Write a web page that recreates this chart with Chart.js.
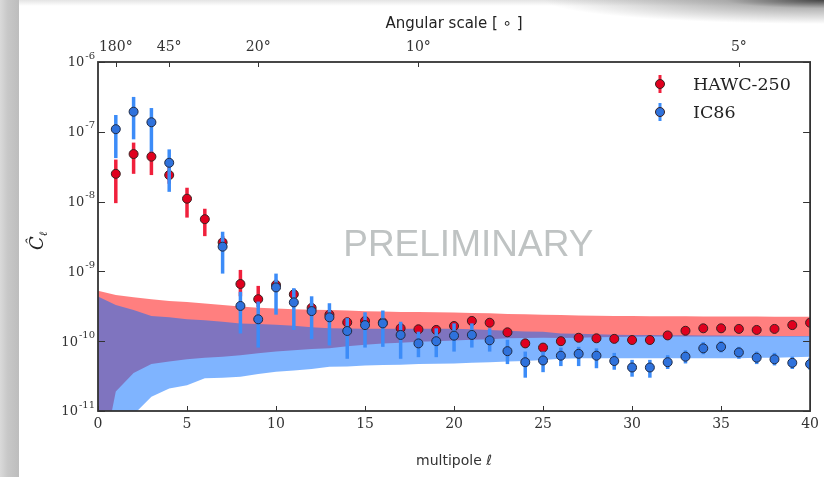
<!DOCTYPE html>
<html>
<head>
<meta charset="utf-8">
<script src="https://cdn.jsdelivr.net/npm/chart.js@4.4.1/dist/chart.umd.min.js"></script>
<style>
  html, body { margin: 0; padding: 0; background: #fff; }
  #wrap { position: relative; width: 824px; height: 477px; overflow: hidden; background: #fff; }
  #edge { position: absolute; left: 0; top: 0; width: 19px; height: 477px;
          background: linear-gradient(to right, #dadada 0%, #c8c8c8 40%, #bdbdbd 100%); }
  #topedge { position: absolute; left: 19px; top: 0; width: 805px; height: 6px;
          background: linear-gradient(to bottom, #e4e4e4, rgba(255,255,255,0)); }
  #shadow { position: absolute; right: 0; top: 0; width: 280px; height: 24px;
          background: radial-gradient(ellipse 100% 100% at 100% 0%, rgba(60,60,60,0.95) 0%, rgba(120,120,120,0.55) 35%, rgba(255,255,255,0) 100%); }
  canvas { position: absolute; left: 0; top: 0; }
</style>
</head>
<body>
<div id="wrap">
  <div id="edge"></div>
  <div id="topedge"></div>
  <div id="shadow"></div>
  <canvas id="chart" width="824" height="477"></canvas>
</div>
<script>
// multipoles of the measured points
const ell = [1, 2, 3, 4, 5, 6, 7, 8, 9, 10, 11, 12, 13, 14, 15, 16, 17, 18, 19, 20,
             21, 22, 23, 24, 25, 26, 27, 28, 29, 30, 31, 32, 33, 34, 35, 36, 37, 38, 39, 40];

const hawcVal = [2.5e-8, 4.8e-8, 4.4e-8, 2.4e-8, 1.1e-8, 5.6e-9, 2.6e-9, 6.6e-10, 4.0e-10, 6.4e-10,
                 4.7e-10, 3.0e-10, 2.4e-10, 1.86e-10, 1.95e-10, 1.85e-10, 1.53e-10, 1.48e-10, 1.45e-10, 1.65e-10,
                 1.95e-10, 1.84e-10, 1.34e-10, 9.3e-11, 8.1e-11, 1.0e-10, 1.12e-10, 1.1e-10, 1.08e-10, 1.04e-10,
                 1.04e-10, 1.21e-10, 1.41e-10, 1.53e-10, 1.53e-10, 1.5e-10, 1.45e-10, 1.5e-10, 1.7e-10, 1.84e-10];
const hawcLo = [9.5e-9, 2.5e-8, 2.4e-8, 1.8e-8, 5.9e-9, 3.2e-9, 2.2e-9, 4.4e-10, 3.1e-10, 5.4e-10,
                4.0e-10, 2.6e-10, 2.0e-10, 1.6e-10, 1.7e-10, 1.6e-10, 1.3e-10, 1.28e-10, 1.25e-10, 1.42e-10,
                1.7e-10, 1.6e-10, 1.15e-10, 8.0e-11, 7.0e-11, 8.7e-11, 9.8e-11, 9.6e-11, 9.4e-11, 9.1e-11,
                9.1e-11, 1.06e-10, 1.24e-10, 1.35e-10, 1.35e-10, 1.32e-10, 1.28e-10, 1.32e-10, 1.5e-10, 1.62e-10];
const hawcHi = [4.0e-8, 7.0e-8, 5.3e-8, 3.2e-8, 1.58e-8, 7.9e-9, 3.2e-9, 1.05e-9, 6.2e-10, 7.6e-10,
                5.6e-10, 3.5e-10, 2.8e-10, 2.2e-10, 2.3e-10, 2.15e-10, 1.8e-10, 1.72e-10, 1.7e-10, 1.9e-10,
                2.25e-10, 2.1e-10, 1.55e-10, 1.08e-10, 9.3e-11, 1.15e-10, 1.28e-10, 1.26e-10, 1.23e-10, 1.19e-10,
                1.19e-10, 1.38e-10, 1.6e-10, 1.73e-10, 1.73e-10, 1.7e-10, 1.64e-10, 1.7e-10, 1.92e-10, 2.08e-10];

const icVal = [1.09e-7, 1.94e-7, 1.37e-7, 3.6e-8, null, null, 2.26e-9, 3.2e-10, 2.06e-10, 5.9e-10,
               3.6e-10, 2.7e-10, 2.2e-10, 1.4e-10, 1.7e-10, 1.8e-10, 1.23e-10, 9.3e-11, 1.0e-10, 1.2e-10,
               1.23e-10, 1.03e-10, 7.2e-11, 5.0e-11, 5.3e-11, 6.2e-11, 6.6e-11, 6.2e-11, 5.2e-11, 4.2e-11,
               4.2e-11, 5.0e-11, 6.0e-11, 7.9e-11, 8.3e-11, 6.9e-11, 5.8e-11, 5.5e-11, 4.9e-11, 4.7e-11];
const icLo = [4.2e-8, 7.8e-8, 5.2e-8, 1.38e-8, null, null, 9.3e-10, 1.29e-10, 8.1e-11, 2.4e-10,
              1.45e-10, 1.07e-10, 8.7e-11, 5.6e-11, 8.1e-11, 8.3e-11, 5.6e-11, 5.9e-11, 5.9e-11, 7.1e-11,
              8.1e-11, 7.1e-11, 4.7e-11, 3.0e-11, 3.6e-11, 4.4e-11, 4.4e-11, 4.1e-11, 3.9e-11, 3.1e-11,
              3.0e-11, 4.0e-11, 4.8e-11, 6.5e-11, 6.9e-11, 5.6e-11, 4.7e-11, 4.5e-11, 4.0e-11, 3.9e-11];
const icHi = [1.74e-7, 3.16e-7, 2.19e-7, 5.6e-8, null, null, 3.7e-9, 5.1e-10, 3.7e-10, 9.3e-10,
              5.75e-10, 4.4e-10, 3.5e-10, 2.14e-10, 2.6e-10, 2.75e-10, 1.9e-10, 1.37e-10, 1.53e-10, 1.8e-10,
              1.8e-10, 1.53e-10, 1.05e-10, 7.1e-11, 7.1e-11, 8.1e-11, 8.3e-11, 7.9e-11, 6.8e-11, 5.4e-11,
              5.4e-11, 6.3e-11, 7.4e-11, 9.7e-11, 1.01e-10, 8.3e-11, 7.1e-11, 6.8e-11, 6.0e-11, 5.8e-11];

// isotropic expectation bands, sampled at l = 0..40
const bandEll = [0, 1, 2, 3, 4, 5, 6, 7, 8, 9, 10, 11, 12, 13, 14, 15, 16, 17, 18, 19, 20,
                 21, 22, 23, 24, 25, 26, 27, 28, 29, 30, 31, 32, 33, 34, 35, 36, 37, 38, 39, 40];
const hawcBandHi = [5.3e-10, 4.6e-10, 4.27e-10, 3.98e-10, 3.77e-10, 3.63e-10, 3.47e-10, 3.31e-10, 3.13e-10, 3.02e-10,
                    2.95e-10, 2.88e-10, 2.82e-10, 2.8e-10, 2.75e-10, 2.69e-10, 2.66e-10, 2.63e-10, 2.63e-10, 2.6e-10,
                    2.57e-10, 2.54e-10, 2.51e-10, 2.46e-10, 2.43e-10, 2.4e-10, 2.37e-10, 2.34e-10, 2.32e-10, 2.29e-10,
                    2.29e-10, 2.28e-10, 2.27e-10, 2.27e-10, 2.26e-10, 2.26e-10, 2.25e-10, 2.25e-10, 2.24e-10, 2.24e-10, 2.24e-10];
const hawcBandLo = [1e-12, 1.9e-11, 3.5e-11, 4.7e-11, 5.1e-11, 5.5e-11, 5.8e-11, 6.0e-11, 6.3e-11, 6.7e-11,
                    7.1e-11, 7.4e-11, 7.7e-11, 7.9e-11, 8.5e-11, 8.9e-11, 9.3e-11, 9.5e-11, 9.8e-11, 1.0e-10,
                    1.02e-10, 1.05e-10, 1.07e-10, 1.1e-10, 1.11e-10, 1.12e-10, 1.11e-10, 1.12e-10, 1.135e-10, 1.15e-10,
                    1.16e-10, 1.17e-10, 1.17e-10, 1.17e-10, 1.17e-10, 1.17e-10, 1.17e-10, 1.17e-10, 1.17e-10, 1.17e-10, 1.17e-10];
const icBandHi = [4.37e-10, 3.31e-10, 2.8e-10, 2.29e-10, 2.21e-10, 2.06e-10, 2.0e-10, 1.9e-10, 1.8e-10, 1.76e-10,
                  1.72e-10, 1.66e-10, 1.58e-10, 1.53e-10, 1.52e-10, 1.51e-10, 1.51e-10, 1.51e-10, 1.51e-10, 1.51e-10,
                  1.51e-10, 1.48e-10, 1.45e-10, 1.41e-10, 1.38e-10, 1.37e-10, 1.29e-10, 1.28e-10, 1.26e-10, 1.24e-10,
                  1.23e-10, 1.23e-10, 1.22e-10, 1.22e-10, 1.21e-10, 1.21e-10, 1.2e-10, 1.2e-10, 1.19e-10, 1.19e-10, 1.19e-10];
const icBandLo = [1e-13, 2.5e-12, 8.9e-12, 1.6e-11, 2.1e-11, 2.34e-11, 2.95e-11, 3.0e-11, 3.1e-11, 3.4e-11,
                  3.65e-11, 3.8e-11, 4.0e-11, 4.3e-11, 4.35e-11, 4.5e-11, 4.55e-11, 4.6e-11, 4.7e-11, 4.75e-11,
                  4.8e-11, 4.9e-11, 5.0e-11, 5.1e-11, 5.2e-11, 5.4e-11, 5.6e-11, 5.7e-11, 5.7e-11, 5.7e-11,
                  5.7e-11, 5.7e-11, 5.7e-11, 5.7e-11, 5.7e-11, 5.7e-11, 5.7e-11, 5.8e-11, 5.8e-11, 5.9e-11, 6.0e-11];

// tick labels
const yTicks = [1e-6, 1e-7, 1e-8, 1e-9, 1e-10, 1e-11];
const yExp = ['-6', '-7', '-8', '-9', '-10', '-11'];
const angPos = [1, 4, 9, 18, 36];
const angLabels = ['180°', '45°', '20°', '10°', '5°'];

const seriesNames = ['HAWC-250', 'IC86'];

const toXY = (xs, ys) => xs.map((x, i) => ({ x: x, y: ys[i] }));

const errorBars = {
  id: 'errorBars',
  beforeDatasetDraw(chart, args) {
    const ds = chart.data.datasets[args.index];
    if (!ds.errLo) return;
    const { ctx, chartArea, scales: { x, y } } = chart;
    ctx.save();
    ctx.beginPath();
    ctx.rect(chartArea.left, chartArea.top, chartArea.width, chartArea.height);
    ctx.clip();
    ctx.strokeStyle = ds.errColor;
    ctx.lineWidth = 3.5;
    ds.data.forEach((p, i) => {
      if (p.y == null) return;
      const px = x.getPixelForValue(p.x);
      ctx.beginPath();
      ctx.moveTo(px, y.getPixelForValue(ds.errLo[i]));
      ctx.lineTo(px, y.getPixelForValue(ds.errHi[i]));
      ctx.stroke();
    });
    ctx.restore();
  }
};

// frame, inward ticks, y labels with exponents, legend and watermark
const decorations = {
  id: 'decorations',
  afterDraw(chart) {
    const { ctx, chartArea: a, scales: { x, y } } = chart;
    ctx.save();

    // watermark
    ctx.fillStyle = '#bfc3c3';
    ctx.font = '37px "Liberation Sans", Arial, sans-serif';
    ctx.textAlign = 'center';
    ctx.textBaseline = 'middle';
    ctx.fillText('PRELIMINARY', x.getPixelForValue(20.8), y.getPixelForValue(2.3e-9));

    // frame
    ctx.strokeStyle = '#333';
    ctx.lineWidth = 1.8;
    ctx.strokeRect(a.left, a.top, a.width, a.height);

    // ticks
    ctx.lineWidth = 1;
    ctx.beginPath();
    x.ticks.forEach(t => {
      const px = Math.round(x.getPixelForValue(t.value)) + 0.5;
      ctx.moveTo(px, a.bottom); ctx.lineTo(px, a.bottom - 5);
    });
    angPos.forEach(v => {
      const px = Math.round(x.getPixelForValue(v)) + 0.5;
      ctx.moveTo(px, a.top); ctx.lineTo(px, a.top + 5);
    });
    yTicks.forEach(v => {
      const py = Math.round(y.getPixelForValue(v)) + 0.5;
      ctx.moveTo(a.left, py); ctx.lineTo(a.left + 7, py);
      ctx.moveTo(a.right, py); ctx.lineTo(a.right - 7, py);
      if (v > 1e-6) {
        for (let k = 2; k <= 9; k++) {
          const pm = Math.round(y.getPixelForValue(v * k)) + 0.5;
          ctx.moveTo(a.left, pm); ctx.lineTo(a.left + 3.5, pm);
          ctx.moveTo(a.right, pm); ctx.lineTo(a.right - 3.5, pm);
        }
      }
    });
    ctx.stroke();

    // y tick labels 10^n
    ctx.fillStyle = '#333';
    ctx.textBaseline = 'middle';
    yTicks.forEach((v, i) => {
      const py = y.getPixelForValue(v);
      ctx.font = '10px "DejaVu Serif", serif';
      ctx.textAlign = 'right';
      ctx.fillText(yExp[i], a.left - 3, py - 6);
      const ew = ctx.measureText(yExp[i]).width;
      ctx.font = '13px "DejaVu Serif", serif';
      ctx.fillText('10', a.left - 4 - ew, py + 1);
    });

    // y axis title
    ctx.save();
    ctx.translate(38, 240);
    ctx.rotate(-Math.PI / 2);
    ctx.textAlign = 'center';
    ctx.font = 'italic 18px "DejaVu Serif", serif';
    ctx.fillStyle = '#222';
    ctx.fillText('Ĉ', -3, 0);
    ctx.font = 'italic 11px "DejaVu Serif", serif';
    ctx.fillText('ℓ', 6, 6);
    ctx.restore();

    // legend
    const legend = [
      { name: seriesNames[0], fill: '#e0001e', bar: '#f0203c', yv: 84 },
      { name: seriesNames[1], fill: '#2f72dc', bar: '#3c8cf8', yv: 112 }
    ];
    legend.forEach(l => {
      ctx.strokeStyle = l.bar;
      ctx.lineWidth = 3;
      ctx.beginPath();
      ctx.moveTo(660, l.yv - 9); ctx.lineTo(660, l.yv + 9);
      ctx.stroke();
      ctx.beginPath();
      ctx.arc(660, l.yv, 4.5, 0, Math.PI * 2);
      ctx.fillStyle = l.fill;
      ctx.fill();
      ctx.lineWidth = 1;
      ctx.strokeStyle = '#3a2020';
      ctx.stroke();
      ctx.fillStyle = '#222';
      ctx.font = '17.5px "DejaVu Serif", serif';
      ctx.textAlign = 'left';
      ctx.textBaseline = 'middle';
      ctx.fillText(l.name, 693, l.yv + 1);
    });

    ctx.restore();
  }
};

Chart.defaults.font.family = '"DejaVu Serif", serif';
Chart.defaults.color = '#333';

new Chart(document.getElementById('chart'), {
  type: 'line',
  data: {
    datasets: [
      {
        label: 'HAWC band high',
        data: toXY(bandEll, hawcBandHi),
        borderWidth: 0, pointRadius: 0, tension: 0,
        backgroundColor: 'rgba(255, 0, 0, 0.5)',
        fill: '+1', order: 3
      },
      {
        label: 'HAWC band low',
        data: toXY(bandEll, hawcBandLo),
        borderWidth: 0, pointRadius: 0, tension: 0,
        fill: false, order: 3
      },
      {
        label: 'IC86 band high',
        data: toXY(bandEll, icBandHi),
        borderWidth: 0, pointRadius: 0, tension: 0,
        backgroundColor: 'rgba(0, 105, 255, 0.5)',
        fill: '+1', order: 2
      },
      {
        label: 'IC86 band low',
        data: toXY(bandEll, icBandLo),
        borderWidth: 0, pointRadius: 0, tension: 0,
        fill: false, order: 2
      },
      {
        label: seriesNames[0],
        data: toXY(ell, hawcVal),
        showLine: false,
        pointRadius: 4.5,
        pointBackgroundColor: '#e0001e',
        pointBorderColor: '#3a2020',
        pointBorderWidth: 1,
        errLo: hawcLo, errHi: hawcHi, errColor: '#f0203c',
        order: 1
      },
      {
        label: seriesNames[1],
        data: toXY(ell, icVal),
        showLine: false,
        pointRadius: 4.5,
        pointBackgroundColor: '#2f72dc',
        pointBorderColor: '#1f2a44',
        pointBorderWidth: 1,
        errLo: icLo, errHi: icHi, errColor: '#3c8cf8',
        order: 0
      }
    ]
  },
  options: {
    responsive: false,
    animation: false,
    layout: { padding: { left: 0, right: 12, top: 0, bottom: 0 } },
    plugins: {
      legend: { display: false },
      tooltip: { enabled: false }
    },
    scales: {
      x: {
        type: 'linear',
        position: 'bottom',
        min: 0, max: 40,
        ticks: { stepSize: 5, autoSkip: false, maxRotation: 0, padding: 5,
                 font: { size: 14 }, color: '#333' },
        grid: { display: true, drawOnChartArea: false, drawTicks: false },
        border: { display: false },
        title: { display: true, text: 'multipole ℓ', color: '#333',
                 font: { family: '"DejaVu Sans", sans-serif', size: 14 },
                 padding: { top: 0, bottom: 7 } },
        afterFit: s => { s.height = 66; }
      },
      x2: {
        type: 'linear',
        position: 'top',
        min: 0, max: 40,
        afterBuildTicks: s => { s.ticks = angPos.map(v => ({ value: v })); },
        ticks: { autoSkip: false, maxRotation: 0, padding: 6,
                 font: { size: 14 }, color: '#333',
                 callback: v => angLabels[angPos.indexOf(v)] },
        grid: { display: true, drawOnChartArea: false, drawTicks: false },
        border: { display: false },
        title: { display: true, text: 'Angular scale [ ∘ ]', color: '#222',
                 font: { family: '"DejaVu Sans", sans-serif', size: 15 },
                 padding: { top: 15, bottom: 0 } },
        afterFit: s => { s.height = 62; }
      },
      y: {
        type: 'logarithmic',
        min: 1e-11, max: 1e-6,
        ticks: { display: false },
        grid: { display: false },
        border: { display: false },
        afterFit: s => { s.width = 98; }
      }
    }
  },
  plugins: [errorBars, decorations]
});
</script>
</body>
</html>
